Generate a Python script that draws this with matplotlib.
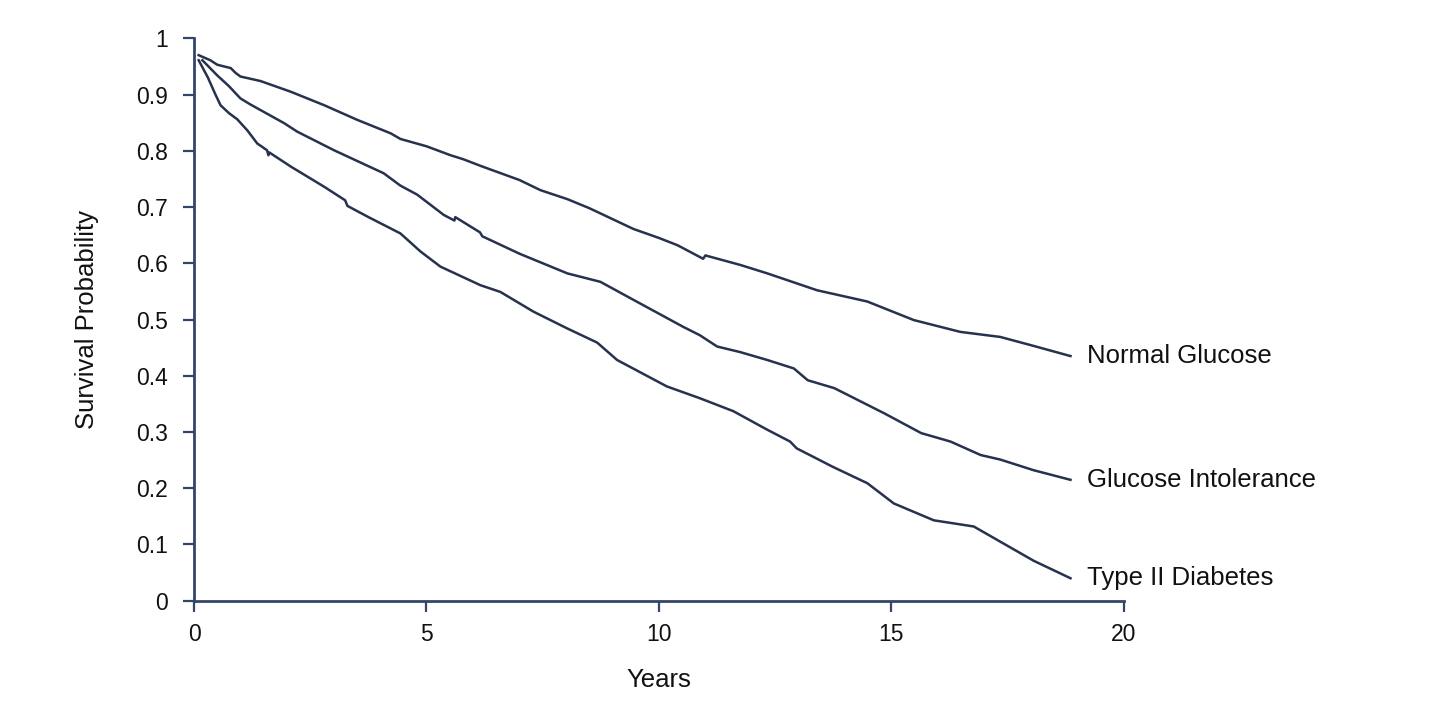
import matplotlib
matplotlib.use('Agg')
import matplotlib.pyplot as plt

# survival curves
normal_x = [0.1, 0.35, 0.5, 0.79, 0.9, 1.0, 1.43, 2.08, 2.8, 3.51, 4.23, 4.44, 5.0, 5.52, 5.79,
            6.2, 7.0, 7.45, 8.03, 8.5, 9.45, 10.0, 10.4, 10.95, 11.0, 11.04, 11.75, 12.33,
            13.4, 14.48, 15.48, 16.48, 17.34, 18.06, 18.85]
normal_y = [0.970, 0.961, 0.953, 0.947, 0.938, 0.932, 0.924, 0.905, 0.881, 0.855, 0.831, 0.821,
            0.808, 0.792, 0.785, 0.772, 0.748, 0.730, 0.714, 0.698, 0.661, 0.645, 0.632, 0.608,
            0.614, 0.613, 0.597, 0.582, 0.552, 0.532, 0.499, 0.478, 0.469, 0.453, 0.435]

intol_x = [0.18, 0.5, 0.75, 1.0, 1.22, 1.94, 2.22, 3.01, 4.08, 4.44, 4.8, 5.37, 5.6, 5.62, 6.15,
           6.2, 7.0, 8.03, 8.74, 9.45, 10.52, 10.88, 11.25, 11.75, 12.33, 12.9, 13.2, 13.77,
           14.85, 15.64, 16.27, 16.92, 17.34, 18.06, 18.85]
intol_y = [0.961, 0.934, 0.915, 0.893, 0.882, 0.849, 0.834, 0.801, 0.760, 0.738, 0.722, 0.686,
           0.676, 0.682, 0.655, 0.648, 0.617, 0.582, 0.567, 0.535, 0.487, 0.472, 0.452, 0.442,
           0.428, 0.413, 0.392, 0.378, 0.333, 0.298, 0.283, 0.259, 0.251, 0.232, 0.215]

diab_x = [0.1, 0.3, 0.45, 0.57, 0.75, 0.93, 1.15, 1.36, 1.57, 1.6, 1.62, 2.08, 2.8, 3.25, 3.3,
          3.73, 4.44, 4.87, 5.3, 6.16, 6.59, 7.3, 8.03, 8.67, 9.1, 10.17, 10.88, 11.6, 12.33,
          12.82, 12.96, 13.74, 14.48, 15.05, 15.91, 16.77, 17.34, 18.06, 18.85]
diab_y = [0.961, 0.930, 0.902, 0.881, 0.867, 0.856, 0.836, 0.813, 0.801, 0.792, 0.797, 0.772,
          0.736, 0.712, 0.702, 0.683, 0.653, 0.621, 0.594, 0.561, 0.549, 0.514, 0.484, 0.459,
          0.428, 0.381, 0.360, 0.337, 0.304, 0.283, 0.271, 0.238, 0.209, 0.173, 0.143, 0.132,
          0.105, 0.071, 0.040]

labels = ['Normal Glucose', 'Glucose Intolerance', 'Type II Diabetes']

x_ticks = [0, 5, 10, 15, 20]
y_ticks = [0, 0.1, 0.2, 0.3, 0.4, 0.5, 0.6, 0.7, 0.8, 0.9, 1]
y_ticklabels = ['0', '0.1', '0.2', '0.3', '0.4', '0.5', '0.6', '0.7', '0.8', '0.9', '1']

line_col = '#27324f'
axis_col = '#33456b'

plt.rcParams['font.family'] = ['Liberation Sans', 'DejaVu Sans']

fig = plt.figure(figsize=(14.36, 7.21), dpi=100)
ax = fig.add_axes([0.1351, 0.1668, 0.6476, 0.7801])

series = [(normal_x, normal_y), (intol_x, intol_y), (diab_x, diab_y)]
for (xs, ys), name in zip(series, labels):
    ax.plot(xs, ys, color=line_col, linewidth=1.8, solid_joinstyle='round')
    ax.text(xs[-1] + 0.35, ys[-1], name, fontsize=18.5, va='center', ha='left', color='#111111')

ax.set_xlim(0, 20)
ax.set_ylim(0, 1)
ax.set_xticks(x_ticks)
ax.set_xticklabels([str(t) for t in x_ticks])
ax.set_yticks(y_ticks)
ax.set_yticklabels(y_ticklabels)

for s in ['top', 'right']:
    ax.spines[s].set_visible(False)
for s in ['left', 'bottom']:
    ax.spines[s].set_color(axis_col)
    ax.spines[s].set_linewidth(2)

ax.tick_params(direction='out', length=8, width=1.6, color=axis_col,
               labelsize=16.5, labelcolor='#111111', pad=10.5)
ax.tick_params(axis='x', pad=8)

ax.set_xlabel('Years', fontsize=18.5, color='#111111', labelpad=16)
ax.set_ylabel('Survival Probability', fontsize=18.5, color='#111111', labelpad=27)

fig.savefig('out.png', dpi=100)
